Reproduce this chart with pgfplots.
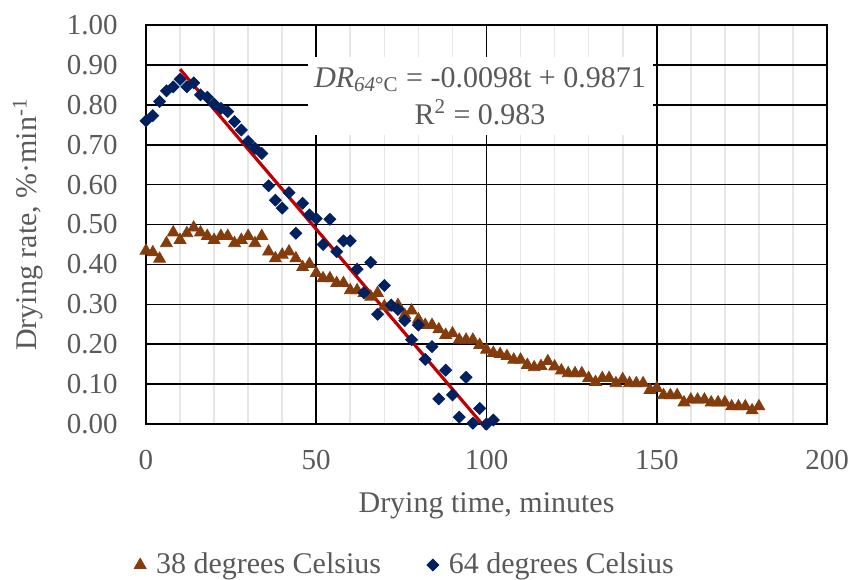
\documentclass[border=0pt]{standalone}
\usepackage{fontspec}
\setmainfont{Liberation Serif}
\usepackage{pgfplots}
\pgfplotsset{compat=1.18}
\definecolor{txtgray}{HTML}{595959}
\definecolor{c38}{HTML}{843C0C}
\definecolor{c64}{HTML}{002060}
\definecolor{trend}{HTML}{C00000}
\definecolor{minorgrid}{HTML}{E6E6E6}
\begin{document}
\begin{tikzpicture}
\begin{axis}[
  scale only axis, width=340.5pt, height=199.5pt,
  xmin=0, xmax=200, ymin=0, ymax=1,
  xtick={0,50,100,150,200}, minor x tick num=4,
  ytick={0,0.1,0.2,0.3,0.4,0.5,0.6,0.7,0.8,0.9,1.0},
  grid=both,
  major grid style={black, line width=0.8pt},
  minor grid style={minorgrid, line width=0.8pt},
  axis line style={black, line width=0.8pt},
  major tick length=0pt, minor tick length=0pt,
  clip=false,
  /pgf/number format/assume math mode=true,
  tick label style={font=\fontsize{14.5}{17}\selectfont, text=txtgray},
  label style={font=\fontsize{15}{18}\selectfont, text=txtgray},
  yticklabel style={/pgf/number format/fixed, /pgf/number format/fixed zerofill,
    /pgf/number format/precision=2, anchor=east, inner sep=0pt, xshift=-14pt},
  xticklabel style={anchor=north, inner sep=0pt, yshift=-13pt},
  xlabel={Drying time, minutes},
  ylabel={Drying rate, \%·min\textsuperscript{-1}},
  xlabel style={at={([yshift=-44pt]axis description cs:0.5,0)}, anchor=base},
  ylabel style={at={([xshift=-54.5pt]axis description cs:0,0.5)}, anchor=base},
  legend columns=2,
  legend cell align=left,
  legend style={draw=none, fill=none, at={(axis description cs:0.379,-0.3534)},
    anchor=center, font=\fontsize{15}{18}\selectfont, text=txtgray,
    nodes={inner sep=0pt},
    /tikz/every odd column/.append style={column sep=5pt},
    /tikz/every even column/.append style={column sep=23pt}},
  legend image code/.code={\draw[#1] plot coordinates {(0pt,0pt)};},
]
% 38 degrees Celsius
\addplot[only marks, mark=triangle*, mark size=3.4pt, color=c38] coordinates {
(0,0.434) (2,0.430) (4,0.414) (6,0.453) (8,0.480) (10,0.461) (12,0.478) (14,0.492)
(16,0.480) (18,0.471) (20,0.461) (22,0.471) (24,0.471) (26,0.453) (28,0.461) (30,0.471)
(32,0.453) (34,0.471) (36,0.432) (38,0.415) (40,0.424) (42,0.432) (44,0.415) (46,0.393)
(48,0.401) (50,0.378) (52,0.365) (54,0.365) (56,0.353) (58,0.353) (60,0.335) (62,0.335)
(64,0.328) (66,0.319) (68,0.328) (70,0.295) (72,0.292) (74,0.298) (76,0.273) (78,0.284)
(80,0.262) (82,0.248) (84,0.248) (86,0.237) (88,0.223) (90,0.227) (92,0.211) (94,0.211)
(96,0.211) (98,0.198) (100,0.186) (102,0.178) (104,0.175) (106,0.170) (108,0.161) (110,0.161)
(112,0.148) (114,0.142) (116,0.145) (118,0.157) (120,0.144) (122,0.134) (124,0.127) (126,0.127)
(128,0.127) (130,0.115) (132,0.105) (134,0.115) (136,0.115) (138,0.102) (140,0.112) (142,0.102)
(144,0.102) (146,0.102) (148,0.085) (150,0.090) (152,0.072) (154,0.072) (156,0.072) (158,0.054)
(160,0.061) (162,0.061) (164,0.061) (166,0.054) (168,0.054) (170,0.054) (172,0.044) (174,0.044)
(176,0.044) (178,0.034) (180,0.044)
};
\addlegendentry{38 degrees Celsius}
% 64 degrees Celsius
\addplot[only marks, mark=square*, mark size=2.1pt, mark options={rotate=45}, color=c64] coordinates {
(0,0.760) (2,0.773) (4,0.808) (6,0.835) (8,0.845) (10,0.864) (12,0.845) (14,0.855)
(16,0.825) (18,0.819) (20,0.802) (22,0.791) (24,0.783) (26,0.758) (28,0.737) (30,0.708)
(32,0.691) (34,0.678) (36,0.597) (38,0.561) (40,0.541) (42,0.580) (44,0.478) (46,0.553)
(48,0.524) (50,0.515) (52,0.450) (54,0.513) (56,0.432) (58,0.459) (60,0.459) (62,0.388)
(64,0.329) (66,0.405) (68,0.275) (70,0.347) (72,0.298) (74,0.287) (76,0.259) (78,0.211)
(80,0.248) (82,0.162) (84,0.194) (86,0.063) (88,0.135) (90,0.073) (92,0.017) (94,0.117)
(96,0.002) (98,0.039) (100,0.000) (102,0.010)
};
\addlegendentry{64 degrees Celsius}
% linear trend of the 64 degrees series
\addplot[forget plot, color=trend, line width=1.6pt] coordinates {(10,0.8891) (100,-0.0129)};
\node[fill=white, inner sep=0pt, minimum width=172.5pt, minimum height=39pt,
  align=center, text=txtgray, font=\fontsize{15}{18.5}\selectfont]
  at (axis cs:98.1,0.822)
  {\textit{DR}\textsubscript{\textit{64}°C} = -0.0098t + 0.9871\\R\textsuperscript{2} = 0.983};
\end{axis}
\pgfresetboundingbox
\path[use as bounding box] (-73pt,-77.5pt) rectangle (353pt,212pt);
\end{tikzpicture}
\end{document}
